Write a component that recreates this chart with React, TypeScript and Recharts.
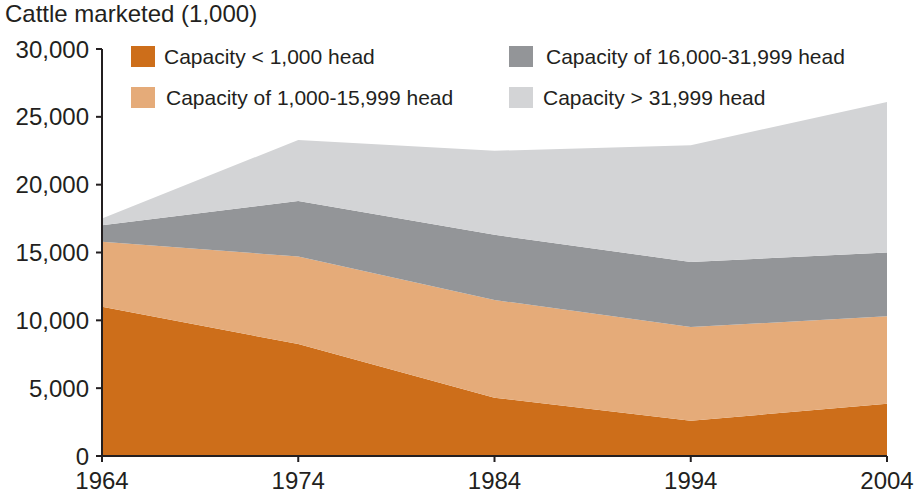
import { Area, AreaChart, Legend, XAxis, YAxis } from 'recharts';

const years = ['1964', '1974', '1984', '1994', '2004'];
const under1000 = [11000, 8250, 4300, 2600, 3850];
const from1000to15999 = [4800, 6450, 7200, 6900, 6450];
const from16000to31999 = [1200, 4100, 4800, 4800, 4700];
const over31999 = [500, 4500, 6200, 8600, 11100];
const yTicks = [0, 5000, 10000, 15000, 20000, 25000, 30000];

const series = [
  { key: 'small', label: 'Capacity < 1,000 head', color: '#cd6e1a', values: under1000 },
  { key: 'mid', label: 'Capacity of 1,000-15,999 head', color: '#e5ab79', values: from1000to15999 },
  { key: 'large', label: 'Capacity of 16,000-31,999 head', color: '#939598', values: from16000to31999 },
  { key: 'xl', label: 'Capacity > 31,999 head', color: '#d3d4d6', values: over31999 },
];

const data = years.map((year, i) => {
  const row: Record<string, string | number> = { year };
  series.forEach((s) => {
    row[s.key] = s.values[i];
  });
  return row;
});

const font = '"Liberation Sans", Arial, sans-serif';
const ink = '#231f20';

// legend in two columns: left = small/mid, right = large/xl
const legendSpots: Record<string, { left: number; top: number; textX: number }> = {
  small: { left: 131, top: 46, textX: 164 },
  mid: { left: 131, top: 87, textX: 166 },
  large: { left: 509, top: 46, textX: 546 },
  xl: { left: 509, top: 87, textX: 543 },
};

const CattleLegend = () => (
  <div style={{ position: 'relative', width: 916, height: 0 }}>
    {series.map((s) => {
      const spot = legendSpots[s.key];
      return (
        <div key={s.key}>
          <div
            style={{
              position: 'absolute',
              left: spot.left,
              top: spot.top,
              width: 24,
              height: 21,
              background: s.color,
            }}
          />
          <div
            style={{
              position: 'absolute',
              left: spot.textX,
              top: spot.top - 1,
              fontSize: 21,
              lineHeight: '24px',
              color: ink,
              whiteSpace: 'nowrap',
            }}
          >
            {s.label}
          </div>
        </div>
      );
    })}
  </div>
);

export default function App() {
  return (
    <div
      style={{
        position: 'absolute',
        left: 0,
        top: 0,
        width: 916,
        height: 496,
        background: '#fff',
        fontFamily: font,
      }}
    >
      <div
        style={{
          position: 'absolute',
          left: 5,
          top: 0,
          fontSize: 24,
          color: ink,
          whiteSpace: 'nowrap',
        }}
      >
        Cattle marketed (1,000)
      </div>
      <AreaChart
        width={916}
        height={496}
        data={data}
        margin={{ top: 49, right: 29, left: 0, bottom: 0 }}
      >
        <XAxis
          dataKey="year"
          height={40}
          stroke={ink}
          strokeWidth={2}
          tickSize={6}
          tick={{ fill: ink, fontSize: 24, fontFamily: font }}
          tickMargin={10}
        />
        <YAxis
          width={102}
          domain={[0, 30000]}
          ticks={yTicks}
          stroke={ink}
          strokeWidth={2}
          tickSize={6}
          tickMargin={7}
          tick={{ fill: ink, fontSize: 24, fontFamily: font }}
          tickFormatter={(v: number) => v.toLocaleString('en-US')}
        />
        <Legend
          verticalAlign="top"
          wrapperStyle={{ position: 'absolute', left: 0, top: 0, width: 916 }}
          content={() => <CattleLegend />}
        />
        {series.map((s) => (
          <Area
            key={s.key}
            type="linear"
            dataKey={s.key}
            stackId="1"
            stroke="none"
            fill={s.color}
            fillOpacity={1}
            isAnimationActive={false}
          />
        ))}
      </AreaChart>
    </div>
  );
}
